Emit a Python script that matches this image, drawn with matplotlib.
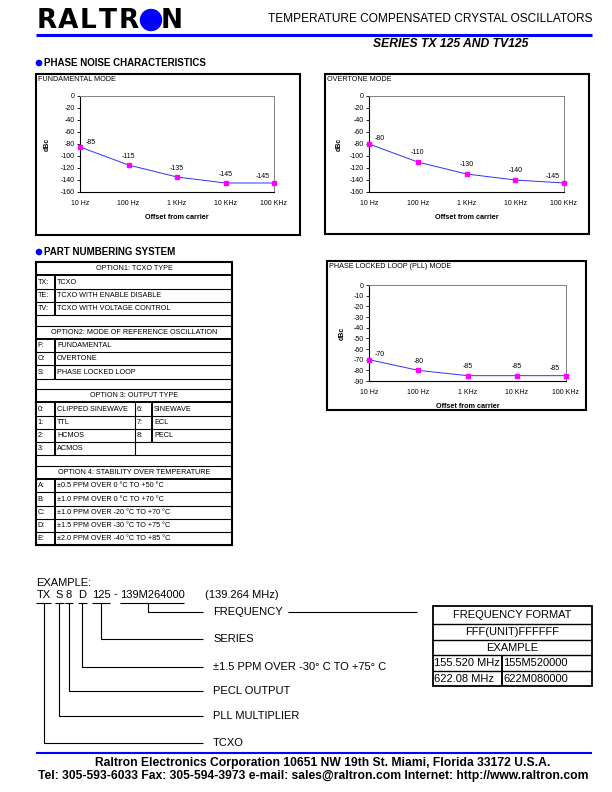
import numpy as np
import matplotlib.pyplot as plt
from matplotlib.patches import Rectangle, Circle

plt.rcParams['font.family'] = ['Liberation Sans', 'DejaVu Sans']

W, H = 612, 792
BLUE = '#0000ff'
MAGENTA = '#ff00ff'

# phase noise data (dBc at offset from carrier)
offsets = ["10 Hz", "100 Hz", "1 KHz", "10 KHz", "100 KHz"]
fundamental_dbc = [-85, -115, -135, -145, -145]
overtone_dbc = [-80, -110, -130, -140, -145]
pll_dbc = [-70, -80, -85, -85, -85]

# part numbering system
opt1_codes = ["TX:", "TE:", "TV:"]
opt1_desc = ["TCXO", "TCXO WITH ENABLE DISABLE", "TCXO WITH VOLTAGE CONTROL"]
opt2_codes = ["F:", "O:", "S:"]
opt2_desc = ["FUNDAMENTAL", "OVERTONE", "PHASE LOCKED LOOP"]
opt3_codes = ["0:", "1:", "2:", "3:"]
opt3_desc = ["CLIPPED SINEWAVE", "TTL", "HCMOS", "ACMOS"]
opt3_codes2 = ["6:", "7:", "8:", ""]
opt3_desc2 = ["SINEWAVE", "ECL", "PECL", ""]
opt4_codes = ["A:", "B:", "C:", "D:", "E:"]
opt4_desc = ["\u00b10.5 PPM OVER 0 \u00b0C TO +50 \u00b0C",
             "\u00b11.0 PPM OVER 0 \u00b0C TO +70 \u00b0C",
             "\u00b11.0 PPM OVER -20 \u00b0C TO +70 \u00b0C",
             "\u00b11.5 PPM OVER -30 \u00b0C TO +75 \u00b0C",
             "\u00b12.0 PPM OVER -40 \u00b0C TO +85 \u00b0C"]

# example part number
example_parts = ["TX", "S", "8", "D", "125", "-", "139M264000"]
example_labels = ["FREQUENCY", "SERIES", "\u00b11.5 PPM OVER -30\u00b0 C TO +75\u00b0 C",
                  "PECL OUTPUT", "PLL MULTIPLIER", "TCXO"]

# frequency format table
freq_examples = ["155.520 MHz", "622.08 MHz"]
freq_codes = ["155M520000", "622M080000"]


def fig_rect(x0, y0, x1, y1):
    return [x0 / W, 1 - y1 / H, (x1 - x0) / W, (y1 - y0) / H]


fig = plt.figure(figsize=(W / 100, H / 100), dpi=100)
page = fig.add_axes([0, 0, 1, 1])
page.set_xlim(0, W)
page.set_ylim(H, 0)
page.axis('off')


def line(xs, ys, lw=0.8, color='black'):
    page.plot(xs, ys, color=color, lw=lw, solid_capstyle='butt')


# ---- header ----
logo_x = [47, 68, 88, 108, 129, 151, 172]
for ch, x in zip("RALTR N", logo_x):
    if ch == ' ':
        page.add_patch(Circle((x, 20), 10.5, color=BLUE))
    else:
        page.text(x, 20.5, ch, fontsize=19, fontweight='black', family='DejaVu Sans',
                  ha='center', va='center')
page.text(592, 19, "TEMPERATURE COMPENSATED CRYSTAL OSCILLATORS", fontsize=8.55,
          ha='right', va='center')
line([36, 592], [35, 35], lw=2.2, color=BLUE)
page.text(528, 44, "SERIES TX 125 AND TV125", fontsize=8.7, fontweight='bold',
          fontstyle='italic', ha='right', va='center')


def section(x, y, text):
    page.add_patch(Circle((x, y), 2.6, color=BLUE))
    page.text(x + 5, y, text, fontsize=7.0, fontweight='bold', ha='left', va='center')


section(39, 63, "PHASE NOISE CHARACTERISTICS")
section(39, 252, "PART NUMBERING SYSTEM")


# ---- phase noise charts ----
def phase_chart(box, plot, title, values, yticks, ylabel_x):
    bx0, by0, bx1, by1 = box
    page.add_patch(Rectangle((bx0, by0), bx1 - bx0, by1 - by0, fc='white',
                             ec='black', lw=1.5))
    page.text(bx0 + 2, by0 + 5.5, title, fontsize=5.2, ha='left', va='center')
    ax = fig.add_axes(fig_rect(*plot))
    ax.plot(range(len(values)), values, color='#3030ff', lw=0.7, marker='s',
            ms=3.3, mfc=MAGENTA, mec=MAGENTA, clip_on=False, zorder=3)
    ax.set_xlim(0, len(values) - 1)
    ax.set_ylim(yticks[-1], yticks[0])
    ax.set_yticks(yticks)
    ax.set_yticklabels([str(t) for t in yticks], fontsize=5)
    ax.set_xticks(range(len(offsets)))
    ax.set_xticklabels(offsets, fontsize=5)
    ax.tick_params(axis='x', length=0, pad=6)
    ax.tick_params(axis='y', length=2.5, width=0.6, pad=1.5)
    for s in ['top', 'right']:
        ax.spines[s].set_color('#808080')
        ax.spines[s].set_linewidth(0.7)
    for s in ['left', 'bottom']:
        ax.spines[s].set_color('black')
        ax.spines[s].set_linewidth(0.8)
    ax.set_xlabel("Offset from carrier", fontsize=5.2, fontweight='bold')
    ax.xaxis.set_label_coords(0.5, -(22.0 / (plot[3] - plot[1])))
    ax.set_ylabel("dBc", fontsize=5, fontweight='bold')
    ax.yaxis.set_label_coords(-(plot[0] - ylabel_x) / (plot[2] - plot[0]), 0.5)
    last = len(values) - 1
    for i, v in enumerate(values):
        if i == 0:
            dx, dy = 11, 5
        elif i == last:
            dx, dy = -11, 7
        else:
            dx, dy = 0, 9
        ax.annotate(str(v), (i, v), xytext=(dx, dy), textcoords='offset pixels',
                    ha='center', va='center', fontsize=5)
    return ax


phase_chart((36, 74, 300, 235), (80, 96, 274, 192), "FUNDAMENTAL MODE",
            fundamental_dbc, list(range(0, -161, -20)), 51)
phase_chart((325, 74, 589, 234), (369, 96, 564, 192), "OVERTONE MODE",
            overtone_dbc, list(range(0, -161, -20)), 343)
phase_chart((327, 261, 586, 410), (369, 285, 566, 381), "PHASE LOCKED LOOP (PLL) MODE",
            pll_dbc, list(range(0, -91, -10)), 346)

# ---- part numbering table ----
tx0, tx1, code_x = 36, 232, 55
rows = [('hdr', "OPTION1: TCXO TYPE")]
rows += [('item', c, d) for c, d in zip(opt1_codes, opt1_desc)]
rows += [('blank',), ('hdr', "OPTION2: MODE OF REFERENCE OSCILLATION")]
rows += [('item', c, d) for c, d in zip(opt2_codes, opt2_desc)]
rows += [('blank',), ('hdr', "OPTION 3: OUTPUT TYPE")]
rows += [('item3', c, d, c2, d2) for c, d, c2, d2 in
         zip(opt3_codes, opt3_desc, opt3_codes2, opt3_desc2)]
rows += [('blank',), ('hdr', "OPTION 4: STABILITY OVER TEMPERATURE")]
rows += [('item', c, d) for c, d in zip(opt4_codes, opt4_desc)]

y = 262.0
fs_tab = 5.2
for r in rows:
    kind = r[0]
    h = 10.5 if kind == 'blank' else 13.25
    yc = y + h / 2 + 0.3
    if kind == 'hdr':
        page.text((tx0 + tx1) / 2, yc, r[1], fontsize=fs_tab, ha='center', va='center')
        line([tx0, tx1], [y + h, y + h], lw=1.4)
    elif kind == 'blank':
        line([tx0, tx1], [y + h, y + h], lw=0.8)
    else:
        page.text(tx0 + 1.5, yc, r[1], fontsize=fs_tab, ha='left', va='center')
        page.text(code_x + 2, yc, r[2], fontsize=fs_tab, ha='left', va='center')
        line([code_x, code_x], [y, y + h], lw=1.4)
        if kind == 'item3':
            line([135, 135], [y, y + h], lw=0.8)
            if r[3]:
                line([152, 152], [y, y + h], lw=1.4)
                page.text(137, yc, r[3], fontsize=fs_tab, ha='left', va='center')
                page.text(154, yc, r[4], fontsize=fs_tab, ha='left', va='center')
        line([tx0, tx1], [y + h, y + h], lw=0.8)
    y += h
page.add_patch(Rectangle((tx0, 262), tx1 - tx0, y - 262, fill=False, ec='black', lw=1.5))

# ---- example ----
fs_ex = 8
page.text(36, 583, "EXAMPLE:", fontsize=fs_ex, ha='left', va='center')
part_cx = [43.5, 59, 69, 82, 101, 115, 152]
under = [(36, 51), (55, 63.5), (65, 73), (77.5, 87), (91.5, 110), None, (120, 183.5)]
for txt, cx, u in zip(example_parts, part_cx, under):
    page.text(cx, 594.5, txt, fontsize=fs_ex, ha='center', va='center')
    if u:
        line(list(u), [603, 603], lw=0.8)
page.text(205, 594.5, "(139.264 MHz)", fontsize=fs_ex, ha='left', va='center')

drop_x = [148, 100.7, 81.7, 69.3, 59.3, 44]
drop_y = [611.7, 639, 666.7, 690.7, 715.7, 742.7]
for lab, dx, dy in zip(example_labels, drop_x, drop_y):
    line([dx, dx, 203], [603, dy, dy], lw=0.8)
    page.text(213, dy, lab, fontsize=fs_ex, ha='left', va='center')
line([288, 417], [611.7, 611.7], lw=0.8)

# ---- frequency format table ----
fx0, fx1, fmid = 433, 592, 502
fy = [606, 624, 639.5, 655, 671, 686]
page.add_patch(Rectangle((fx0, fy[0]), fx1 - fx0, fy[-1] - fy[0], fill=False,
                         ec='black', lw=1.3))
for yy in fy[1:-1]:
    line([fx0, fx1], [yy, yy], lw=1.0)
line([fmid, fmid], [fy[3], fy[5]], lw=1.4)
for txt, i in zip(["FREQUENCY FORMAT", "FFF(UNIT)FFFFFF", "EXAMPLE"], range(3)):
    page.text((fx0 + fx1) / 2, (fy[i] + fy[i + 1]) / 2 + 0.3, txt, fontsize=fs_ex,
              ha='center', va='center')
for i, (f, c) in enumerate(zip(freq_examples, freq_codes)):
    yc = (fy[3 + i] + fy[4 + i]) / 2 + 0.3
    page.text(fx0 + 1.5, yc, f, fontsize=fs_ex, ha='left', va='center')
    page.text(fmid + 1.5, yc, c, fontsize=fs_ex, ha='left', va='center')

# ---- footer ----
line([36, 592], [753, 753], lw=1.5, color=BLUE)
page.text(323, 763, "Raltron Electronics Corporation 10651 NW 19th St. Miami, Florida 33172 U.S.A.",
          fontsize=8.7, fontweight='bold', ha='center', va='center')
page.text(313.5, 776, "Tel: 305-593-6033 Fax: 305-594-3973 e-mail: sales@raltron.com "
          "Internet: http://www.raltron.com", fontsize=8.7, fontweight='bold',
          ha='center', va='center')

fig.savefig("out.png", dpi=100)
